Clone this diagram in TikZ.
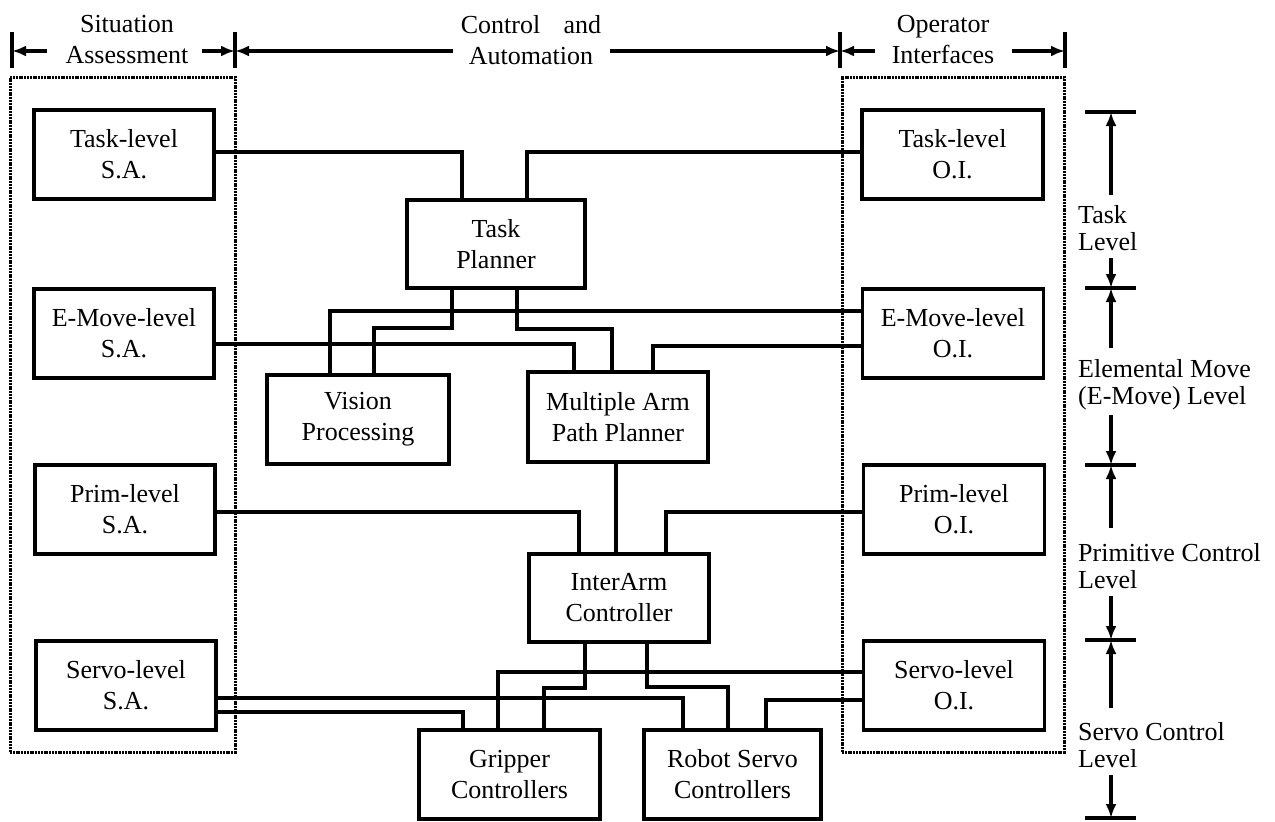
\documentclass[tikz,border=0pt]{standalone}
\usepackage{fontspec}
\setmainfont{Liberation Serif}
\usetikzlibrary{arrows.meta}
\begin{document}
\begin{tikzpicture}[x=1pt,y=-1pt,
  box/.style={draw, line width=3.6pt, inner sep=0pt, outer sep=0pt, align=center,
    font=\fontsize{26}{31}\selectfont},
  conn/.style={line width=3.2pt},
  frame/.style={draw, line width=3pt, dash pattern=on 2pt off 0.8pt, inner sep=0pt, outer sep=0pt},
  lbl/.style={font=\fontsize{26}{31}\selectfont, align=center, inner sep=0pt},
  lvl/.style={font=\fontsize{26}{27}\selectfont, align=left, inner sep=0pt, anchor=west},
  harrow/.style={line width=3.2pt, -{Latex[length=14pt,width=11pt]}},
  bar/.style={line width=3.6pt},
]
\useasboundingbox (0,0) rectangle (1275,822);

% frames
\node[frame, minimum width=225pt, minimum height=675pt] (saf) at (122.5,414.5) {};
\node[frame, minimum width=222pt, minimum height=675pt] (oif) at (953,414.5) {};

% header
\node[lbl] (hsa) at (127,40) {Situation\\Assessment};
\node[lbl] (hca) at (531,40) {Control\hspace{0.9em}and\\Automation};
\node[lbl] (hoi) at (943,40) {Operator\\Interfaces};
\foreach \x in {12,235,840,1065} \draw[bar] (\x,32) -- (\x,68);
\coordinate (b1) at (12,51);
\coordinate (b2) at (235,51);
\coordinate (b3) at (840,51);
\coordinate (b4) at (1065,51);
\coordinate (a1) at (47,51);
\coordinate (a2) at (202,51);
\coordinate (a3) at (453,51);
\coordinate (a4) at (610,51);
\coordinate (a5) at (875,51);
\coordinate (a6) at (1012,51);
\draw[harrow] (a1) -- (b1);
\draw[harrow] (a2) -- (b2);
\draw[harrow] (a3) -- (b2);
\draw[harrow] (a4) -- (b3);
\draw[harrow] (a5) -- (b3);
\draw[harrow] (a6) -- (b4);

% SA boxes
\node[box, minimum width=180pt, minimum height=89pt] (tsa) at (124,154.5) {Task-level\\S.A.};
\node[box, minimum width=180pt, minimum height=89pt] (esa) at (124,333.5) {E-Move-level\\S.A.};
\node[box, minimum width=180pt, minimum height=89pt] (psa) at (125,509.5) {Prim-level\\S.A.};
\node[box, minimum width=180pt, minimum height=89pt] (ssa) at (126,685.5) {Servo-level\\S.A.};
% OI boxes
\node[box, minimum width=181pt, minimum height=89pt] (toi) at (952.5,154.5) {Task-level\\O.I.};
\node[box, minimum width=181pt, minimum height=89pt] (eoi) at (953,333.5) {E-Move-level\\O.I.};
\node[box, minimum width=181pt, minimum height=89pt] (poi) at (954,509.5) {Prim-level\\O.I.};
\node[box, minimum width=181pt, minimum height=89pt] (soi) at (954,685.5) {Servo-level\\O.I.};
% central
\node[box, minimum width=178pt, minimum height=88pt] (tp) at (496,244) {Task\\Planner};
\node[box, minimum width=182pt, minimum height=89pt] (vp) at (358,419.5) {Vision\\Processing};
\node[box, minimum width=180pt, minimum height=90pt] (mapp) at (618,417) {Multiple Arm\\Path Planner};
\node[box, minimum width=180pt, minimum height=88pt] (iac) at (619,598) {InterArm\\Controller};
\node[box, minimum width=181pt, minimum height=89pt] (gc) at (509.5,774.5) {Gripper\\Controllers};
\node[box, minimum width=177pt, minimum height=89pt] (rsc) at (732.5,774.5) {Robot Servo\\Controllers};

% connectors
\draw[conn] (tsa.east |- 0,152) -| (462,0 |- tp.north);
\draw[conn] (toi.west |- 0,152) -| (527,0 |- tp.north);
\draw[conn] (452,0 |- tp.south) -- (452,328) -| (374,0 |- vp.north);
\draw[conn] (517,0 |- tp.south) -- (517,329) -| (612,0 |- mapp.north);
\draw[conn] (eoi.west |- 0,311) -| (330,0 |- vp.north);
\draw[conn] (esa.east |- 0,344) -| (574,0 |- mapp.north);
\draw[conn] (eoi.west |- 0,346) -| (653,0 |- mapp.north);
\draw[conn] (616,0 |- mapp.south) -- (616,0 |- iac.north);
\draw[conn] (psa.east |- 0,512) -| (579,0 |- iac.north);
\draw[conn] (poi.west |- 0,512) -| (666,0 |- iac.north);
\draw[conn] (585,0 |- iac.south) -- (585,688) -| (544,0 |- gc.north);
\draw[conn] (647,0 |- iac.south) -- (647,687) -| (728,0 |- rsc.north);
\draw[conn] (soi.west |- 0,672) -| (498,0 |- gc.north);
\draw[conn] (ssa.east |- 0,698) -| (683,0 |- rsc.north);
\draw[conn] (ssa.east |- 0,712) -| (463,0 |- gc.north);
\draw[conn] (soi.west |- 0,700) -| (766,0 |- rsc.north);

% level scale
\foreach \y in {112,288,465,640,818} \draw[bar] (1085,\y) -- (1136,\y);
\node[lvl] (ltask) at (1078,228) {Task\\Level};
\node[lvl] (lem) at (1078,385) {Elemental Move\\(E-Move) Level};
\node[lvl] (lprim) at (1078,566) {Primitive Control\\Level};
\node[lvl] (lservo) at (1078,745) {Servo Control\\Level};
\draw[harrow] (1111,195) -- (1111,112);
\draw[harrow] (1111,258) -- (1111,288);
\draw[harrow] (1111,348) -- (1111,288);
\draw[harrow] (1111,415) -- (1111,465);
\draw[harrow] (1111,528) -- (1111,465);
\draw[harrow] (1111,596) -- (1111,640);
\draw[harrow] (1111,708) -- (1111,640);
\draw[harrow] (1111,775) -- (1111,818);
\end{tikzpicture}
\end{document}
